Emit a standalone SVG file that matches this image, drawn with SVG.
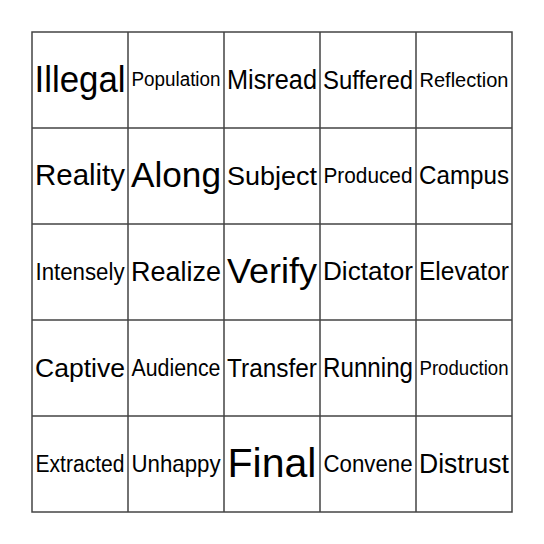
<svg xmlns="http://www.w3.org/2000/svg" width="544" height="544" viewBox="0 0 544 544">
<style>
.g{stroke:#444;stroke-width:1.5;fill:none}
text{font-family:"Liberation Sans",Arial,sans-serif;fill:#000;text-anchor:middle}
</style>
<rect width="544" height="544" fill="#fff"/>
<g id="grid" class="g">
<rect x="32" y="32" width="480" height="480"/>
<path d="M128 32V512M224 32V512M320 32V512M416 32V512M32 128H512M32 224H512M32 320H512M32 416H512"/>
</g>
<g id="r1c1"><text x="80" y="91.5" font-size="36" textLength="91" lengthAdjust="spacingAndGlyphs">Illegal</text></g>
<g id="r1c2"><text x="176" y="86.3" font-size="19.5" textLength="89" lengthAdjust="spacingAndGlyphs">Population</text></g>
<g id="r1c3"><text x="272" y="88.6" font-size="27" textLength="90" lengthAdjust="spacingAndGlyphs">Misread</text></g>
<g id="r1c4"><text x="368" y="88.5" font-size="26.5" textLength="90" lengthAdjust="spacingAndGlyphs">Suffered</text></g>
<g id="r1c5"><text x="464" y="86.5" font-size="20.5" textLength="89" lengthAdjust="spacingAndGlyphs">Reflection</text></g>
<g id="r2c1"><text x="80" y="185.3" font-size="29" textLength="90" lengthAdjust="spacingAndGlyphs">Reality</text></g>
<g id="r2c2"><text x="176" y="187.2" font-size="35" textLength="90" lengthAdjust="spacingAndGlyphs">Along</text></g>
<g id="r2c3"><text x="272" y="184.5" font-size="26.5" textLength="90" lengthAdjust="spacingAndGlyphs">Subject</text></g>
<g id="r2c4"><text x="368" y="182.9" font-size="21.5" textLength="89" lengthAdjust="spacingAndGlyphs">Produced</text></g>
<g id="r2c5"><text x="464" y="184" font-size="25" textLength="90" lengthAdjust="spacingAndGlyphs">Campus</text></g>
<g id="r3c1"><text x="80" y="279.6" font-size="23.5" textLength="89" lengthAdjust="spacingAndGlyphs">Intensely</text></g>
<g id="r3c2"><text x="176" y="280.6" font-size="27" textLength="90" lengthAdjust="spacingAndGlyphs">Realize</text></g>
<g id="r3c3"><text x="272" y="283.2" font-size="35" textLength="90" lengthAdjust="spacingAndGlyphs">Verify</text></g>
<g id="r3c4"><text x="368" y="280.2" font-size="25.5" textLength="90" lengthAdjust="spacingAndGlyphs">Dictator</text></g>
<g id="r3c5"><text x="464" y="280" font-size="25" textLength="90" lengthAdjust="spacingAndGlyphs">Elevator</text></g>
<g id="r4c1"><text x="80" y="376.5" font-size="26.5" textLength="90" lengthAdjust="spacingAndGlyphs">Captive</text></g>
<g id="r4c2"><text x="176" y="375.5" font-size="23.5" textLength="89" lengthAdjust="spacingAndGlyphs">Audience</text></g>
<g id="r4c3"><text x="272" y="376.5" font-size="26.5" textLength="90" lengthAdjust="spacingAndGlyphs">Transfer</text></g>
<g id="r4c4"><text x="368" y="376.6" font-size="27" textLength="90" lengthAdjust="spacingAndGlyphs">Running</text></g>
<g id="r4c5"><text x="464" y="374.5" font-size="20.5" textLength="89" lengthAdjust="spacingAndGlyphs">Production</text></g>
<g id="r5c1"><text x="80" y="471.5" font-size="23.5" textLength="89" lengthAdjust="spacingAndGlyphs">Extracted</text></g>
<g id="r5c2"><text x="176" y="471.7" font-size="24" textLength="89" lengthAdjust="spacingAndGlyphs">Unhappy</text></g>
<g id="r5c3"><text x="272" y="477" font-size="40.5" textLength="89" lengthAdjust="spacingAndGlyphs">Final</text></g>
<g id="r5c4"><text x="368" y="471.5" font-size="23.5" textLength="89" lengthAdjust="spacingAndGlyphs">Convene</text></g>
<g id="r5c5"><text x="464" y="472.6" font-size="27" textLength="90" lengthAdjust="spacingAndGlyphs">Distrust</text></g>
</svg>
